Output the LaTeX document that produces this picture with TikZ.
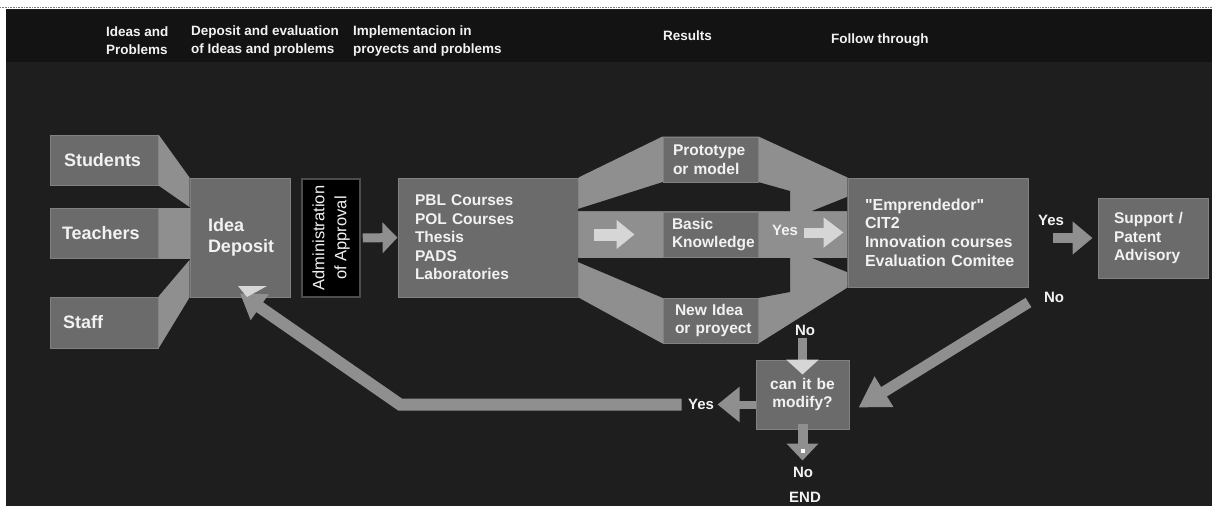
\documentclass[tikz,border=0pt]{standalone}
\usepackage{fontspec}
\setmainfont{Liberation Sans}[Ligatures=TeXOff]
\usetikzlibrary{arrows.meta}
\definecolor{bg}{HTML}{1E1E1E}
\definecolor{hdr}{HTML}{131313}
\definecolor{boxg}{HTML}{6B6B6B}
\definecolor{conn}{HTML}{8F8F8F}
\definecolor{lite}{HTML}{D6D6D6}
\definecolor{txt}{HTML}{F2F2F2}
\newcommand{\hb}[1]{\mbox{#1}}
\tikzset{
  box/.style={fill=boxg, draw=boxg!85!white, line width=1pt, text=txt, inner ysep=0pt, align=left,
    font=\bfseries\fontsize{15.5}{18.5}\selectfont},
  bigbox/.style={box, font=\bfseries\fontsize{18}{21}\selectfont},
  hdrtext/.style={text=txt, anchor=west, align=left, inner sep=0pt, font=\bfseries\fontsize{13.5}{18}\selectfont},
  lbl/.style={text=txt, inner sep=0pt, font=\bfseries\fontsize{15}{18}\selectfont},
  barrow/.style args={#1/#2/#3}{draw=conn, line width=#1, -{Triangle[width=#2,length=#3]}},
  warrow/.style args={#1/#2/#3}{draw=lite, line width=#1, -{Triangle[width=#2,length=#3]}},
}
\begin{document}
\begin{tikzpicture}[x=1pt,y=-1pt]
\useasboundingbox (0,0) rectangle (1212,506);
\fill[white] (0,0) rectangle (1212,506);
\fill[bg] (6,9) rectangle (1212,506);
\fill[hdr] (6,10) rectangle (1212,62);
\draw[gray, densely dotted, line width=0.6pt] (0,7.5) -- (1212,7.5);

% header
\node[hdrtext] (h1) at (106,41) {Ideas and\\Problems};
\node[hdrtext] (h2) at (191,41) {Deposit and evaluation\\of Ideas and problems};
\node[hdrtext] (h3) at (353,41) {Implementacion in\\proyects and problems};
\node[hdrtext] (h4) at (663,36) {Results};
\node[hdrtext] (h5) at (831,40) {Follow through};

% left boxes
\node[bigbox, minimum width=108pt, minimum height=50pt, inner xsep=14pt, text width=80pt] (stud) at (104,160) {Students};
\node[bigbox, minimum width=108pt, minimum height=50pt, inner xsep=12pt, text width=84pt] (teach) at (104,233) {Teachers};
\node[bigbox, minimum width=108pt, minimum height=51pt, inner xsep=13pt, text width=82pt] (staff) at (104,322.5) {Staff};
\node[bigbox, minimum width=100pt, minimum height=119pt, inner xsep=18pt, text width=64pt] (dep) at (240,237.5) {Idea\\Deposit};

% wedges into the deposit
\fill[conn] (stud.north east) -- (dep.north west) -- (dep.west |- 0,207) -- (stud.south east) -- cycle;
\fill[conn] (teach.north east) rectangle (dep.west |- teach.south);
\fill[conn] (staff.north east) -- (dep.west |- 0,260) -- (dep.south west) -- (staff.south east) -- cycle;
\node[bigbox, minimum width=100pt, minimum height=119pt, inner xsep=18pt, text width=64pt] at (dep) {Idea\\Deposit};

% administration
\node[fill=black, draw=gray!60!black, line width=1.5pt, text=txt, rotate=90, align=center, inner sep=0pt,
  minimum width=118pt, minimum height=58pt, font=\fontsize{16.5}{22}\selectfont] (adm) at (331,238) {Administration\\of Approval};

% PBL box
\node[box, minimum width=180pt, minimum height=119pt, inner xsep=17pt, text width=146pt] (pbl) at (488,237.5)
  {PBL Courses\\POL Courses\\Thesis\\PADS\\Laboratories};

% results boxes (placed first for anchors)
\node[box, minimum width=95pt, minimum height=45pt, inner xsep=10pt, text width=75pt] (proto) at (710.5,159.5) {Prototype\\or model};
\node[box, minimum width=95pt, minimum height=45pt, inner xsep=9pt, text width=77pt] (bas) at (710.5,234.5) {Basic\\\hb{Knowledge}};
\node[box, minimum width=95pt, minimum height=45pt, inner xsep=12pt, text width=71pt] (newi) at (710.5,320.5) {New Idea\\\hb{or proyect}};
\node[box, minimum width=180pt, minimum height=109pt, inner xsep=17pt, text width=146pt, font=\bfseries\fontsize{16}{18.7}\selectfont] (emp) at (938,232.5)
  {"Emprendedor"\\CIT2\\\hb{Innovation courses}\\\hb{Evaluation Comitee}};

% big connector band between PBL and Emprendedor
\fill[conn] (pbl.north east) -- (proto.north west) -- (proto.north east) -- (emp.north west) -- (emp.south west)
  -- (newi.south east) -- (newi.south west) -- (pbl.south east) -- cycle;
\fill[bg] (578,209) -- (663,182) -- (758,182) -- (790,191) -- (790,211) -- (578,211) -- cycle;
\fill[bg] (578,258) -- (790,258) -- (790,292) -- (758,298) -- (663,298) -- (578,262) -- cycle;
\fill[bg] (812,211) -- (847,197) -- (847,211) -- cycle;
\fill[bg] (812,258) -- (847,258) -- (847,272) -- cycle;

% redraw boxes on top
\node[box, minimum width=95pt, minimum height=45pt, inner xsep=10pt, text width=75pt] at (proto) {Prototype\\or model};
\node[box, minimum width=95pt, minimum height=45pt, inner xsep=9pt, text width=77pt] at (bas) {Basic\\\hb{Knowledge}};
\node[box, minimum width=95pt, minimum height=45pt, inner xsep=12pt, text width=71pt] at (newi) {New Idea\\\hb{or proyect}};
\node[box, minimum width=180pt, minimum height=109pt, inner xsep=17pt, text width=146pt, font=\bfseries\fontsize{16}{18.7}\selectfont] at (emp)
  {"Emprendedor"\\CIT2\\\hb{Innovation courses}\\\hb{Evaluation Comitee}};

\node[box, minimum width=110pt, minimum height=80pt, inner xsep=16pt, text width=78pt] (sup) at (1153,238) {Support /\\Patent\\Advisory};
\node[box, minimum width=93pt, minimum height=69pt, inner xsep=4pt, text width=85pt, align=center] (can) at (802.5,394.5) {can it be\\modify?};

% arrows
\draw[barrow=9pt/30pt/15pt] ([xshift=2pt]adm.south) -- (pbl.west);
\draw[warrow=12pt/28pt/18pt] ([xshift=15pt]pbl.east |- bas.west) -- ([xshift=-28pt]bas.west);
\draw[warrow=10pt/29pt/20pt] ([xshift=45pt,yshift=2pt]bas.east) -- ([xshift=85pt,yshift=2pt]bas.east);
\draw[barrow=10pt/32pt/20pt] ([xshift=24pt]emp.east |- sup.west) -- ([xshift=-5pt]sup.west);
\draw[barrow=11pt/34pt/30pt] ([yshift=-15pt]emp.south east) -- ([xshift=9pt,yshift=-13pt]can.east);
\draw[draw=conn, line width=9pt, -{Triangle[width=32pt,length=15pt,color=lite]}] ([yshift=22pt]can.north) -- ([yshift=-15pt]can.north);
\draw[barrow=10pt/31pt/17pt] ([yshift=6pt]can.south) -- ([yshift=-31pt]can.south);
\fill[white] (801,449) rectangle (805,453);
\draw[barrow=8pt/34pt/22pt] ([yshift=-10pt]can.west) -- ([xshift=-38pt,yshift=-10pt]can.west);
\coordinate (bend) at (400,404.5);
\draw[barrow=12pt/30pt/24pt] ([xshift=-74pt,yshift=-10pt]can.west) -- (bend) -- ([yshift=4pt]dep.south);
\fill[lite] (238,286) -- (267,286) -- (247,297) -- cycle;

% labels
\node[lbl] (y1) at (785,230) {Yes};
\node[lbl] (y2) at (1051,220) {Yes};
\node[lbl] (n1) at (1054,297) {No};
\node[lbl] (n2) at (805,330) {No};
\node[lbl] (y3) at (701,404) {Yes};
\node[lbl] (n3) at (803,472) {No};
\node[lbl] (e1) at (805,497) {END};
\end{tikzpicture}
\end{document}
